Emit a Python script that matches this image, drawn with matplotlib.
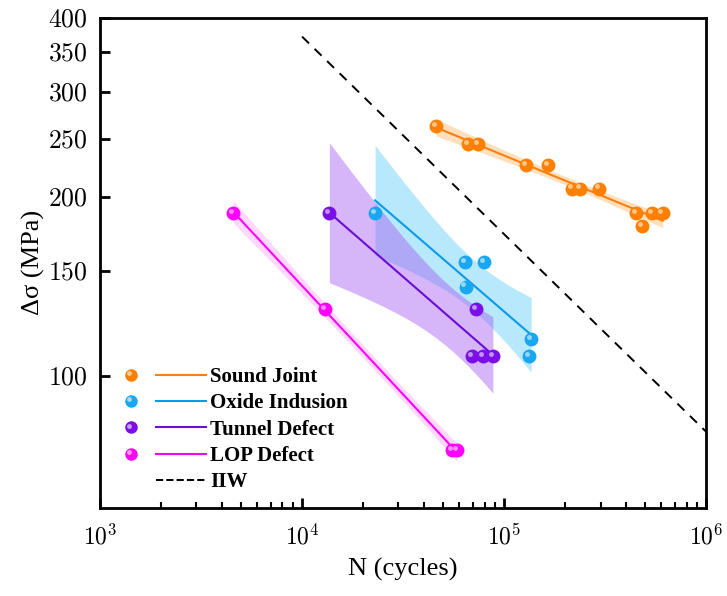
import numpy as np
import matplotlib
matplotlib.use("Agg")
import matplotlib.pyplot as plt
from matplotlib.lines import Line2D
from matplotlib.legend_handler import HandlerBase
from matplotlib.transforms import offset_copy

plt.rcParams['font.family'] = ['Liberation Serif', 'DejaVu Serif']
plt.rcParams['mathtext.fontset'] = 'cm'

# data (N in cycles, stress range in MPa)
sound_N = [45900, 66500, 74600, 128500, 165600, 217800, 238400, 295000, 449500, 483000, 541000, 608000]
sound_S = [263, 245, 245, 226, 226, 206.5, 206.5, 206.5, 188, 178.6, 188, 188]
oxide_N = [22970, 64100, 79600, 64500, 136000, 133000]
oxide_S = [188, 155.2, 155.2, 141.3, 115.3, 108.1]
tunnel_N = [13650, 72600, 69700, 78400, 87900]
tunnel_S = [188, 129.6, 107.8, 107.8, 107.8]
lop_N = [4570, 13000, 55300, 58500]
lop_S = [188, 129.6, 75, 75]
iiw_N = [1e4, 1e6]
iiw_S = [372, 80.5]

labels = ['Sound Joint', 'Oxide Indusion', 'Tunnel Defect', 'LOP Defect']
colors = ['#FF7F00', '#1AA7F2', '#7A0FE8', '#FF00FF']
line_colors = ['#FF7F0E', '#0A9BEA', '#6A0DD6', '#FF00FF']
band_colors = ['#FFB86B', '#4CC6F5', '#A55CF2', '#FF66FF']
band_alpha = [0.45, 0.4, 0.45, 0.25]

# two-sided 95% t values by degrees of freedom
t95 = {2: 4.303, 3: 3.182, 4: 2.776, 10: 2.228}


def fit_band(N, S):
    x = np.log10(N)
    y = np.log10(S)
    b, a = np.polyfit(x, y, 1)
    xs = np.linspace(x.min(), x.max(), 120)
    yh = a + b * xs
    res = y - (a + b * x)
    n = len(x)
    s = np.sqrt(np.sum(res ** 2) / (n - 2))
    se = s * np.sqrt(1 / n + (xs - x.mean()) ** 2 / np.sum((x - x.mean()) ** 2))
    t = t95[n - 2]
    return 10 ** xs, 10 ** yh, 10 ** (yh - t * se), 10 ** (yh + t * se)


class SphereLine(HandlerBase):
    def create_artists(self, legend, orig, xdescent, ydescent, width, height, fontsize, trans):
        y = height / 2 - ydescent
        x0 = -xdescent
        arts = []
        if orig.get_marker() not in (None, 'None', 'none', ''):
            mk = Line2D([x0 + 0.07 * width], [y], marker='o', ms=9, ls='none',
                        color=orig.get_markerfacecolor(), mec='none')
            arts.append(mk)
            hl = Line2D([x0 + 0.07 * width - 1.3], [y + 1.3], marker='o', ms=3.5, ls='none',
                        color='white', alpha=0.6, mec='none')
            arts.append(hl)
        ln = Line2D([x0 + 0.38 * width, x0 + width], [y, y], color=orig.get_color(),
                    lw=orig.get_linewidth(), ls=orig.get_linestyle())
        arts.append(ln)
        for a in arts:
            a.set_transform(trans)
        return arts


fig = plt.figure(figsize=(7.27, 5.96), dpi=100)
ax = fig.add_axes([0.1375, 0.148, 0.834, 0.822])

groups = [(sound_N, sound_S), (oxide_N, oxide_S), (tunnel_N, tunnel_S), (lop_N, lop_S)]
hl_tr = offset_copy(ax.transData, fig=fig, x=-1.6, y=1.6, units='points')
handles = []
for i, (N, S) in enumerate(groups):
    xf, yf, lo, hi = fit_band(N, S)
    ax.fill_between(xf, lo, hi, color=band_colors[i], alpha=band_alpha[i], lw=0, zorder=1)
    ax.plot(xf, yf, color=line_colors[i], lw=1.5, zorder=2)
    ax.plot(N, S, 'o', ms=10, color=colors[i], mec='none', zorder=3)
    ax.plot(N, S, 'o', ms=3.5, color='white', alpha=0.55, mec='none', zorder=4, transform=hl_tr)
    handles.append(Line2D([], [], color=line_colors[i], lw=1.5, marker='o',
                          markerfacecolor=colors[i], label=labels[i]))

ax.plot(iiw_N, iiw_S, ls=(0, (5, 4)), color='black', lw=1.4, zorder=2)
handles.append(Line2D([], [], color='black', lw=1.4, ls=(0, (3.5, 3)), marker='None', label='IIW'))

ax.set_xscale('log')
ax.set_yscale('log')
ax.set_xlim(1e3, 1e6)
ax.set_ylim(60, 400)

yt = [100, 150, 200, 250, 300, 350, 400]
ax.yaxis.set_major_locator(matplotlib.ticker.FixedLocator(yt))
ax.yaxis.set_minor_locator(matplotlib.ticker.NullLocator())
ax.set_yticklabels(['$%d$' % v for v in yt])
ax.xaxis.set_major_locator(matplotlib.ticker.FixedLocator([1e3, 1e4, 1e5, 1e6]))
ax.set_xticklabels([r'$10^3$', r'$10^4$', r'$10^5$', r'$10^6$'])

ax.tick_params(which='both', direction='in')
ax.tick_params(which='major', length=7, width=2)
ax.tick_params(which='minor', length=4, width=1.5)
ax.tick_params(axis='x', pad=12, labelsize=17)
ax.tick_params(axis='y', pad=9, labelsize=18.5)
for sp in ax.spines.values():
    sp.set_linewidth(2)

ax.set_xlabel('N (cycles)', fontsize=19, labelpad=6)
ax.set_ylabel('Δσ (MPa)', fontsize=19, labelpad=2)

ax.legend(handles=handles, loc='lower left', bbox_to_anchor=(0.017, 0.002), frameon=False,
          handler_map={Line2D: SphereLine()}, handlelength=3.9, handletextpad=0.2,
          labelspacing=0.3, borderpad=0.2,
          prop={'family': 'Liberation Serif', 'weight': 'bold', 'size': 15})

fig.savefig('out.png', dpi=100)
